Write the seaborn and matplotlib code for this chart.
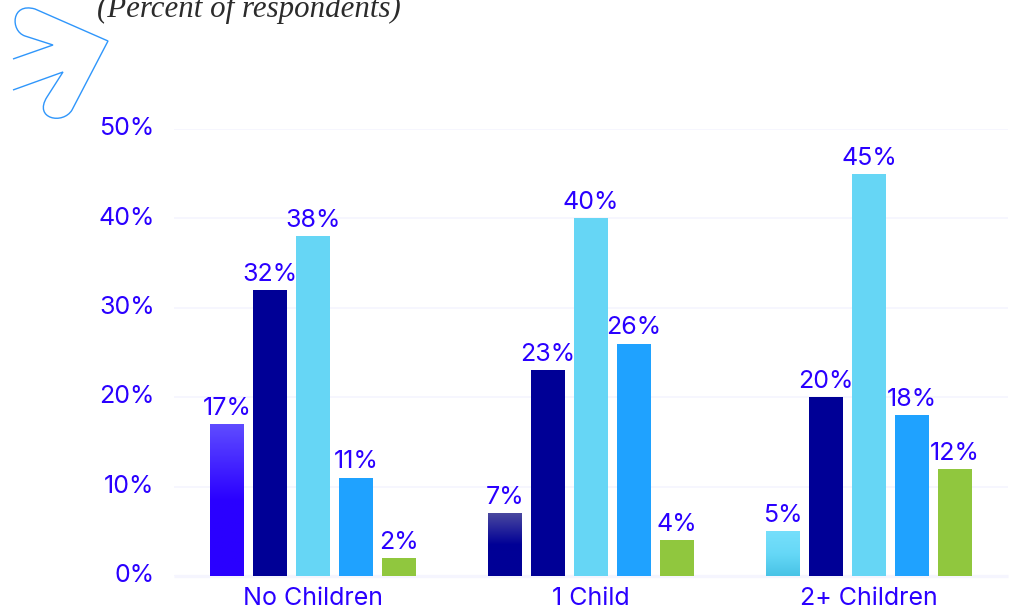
import matplotlib
matplotlib.use("Agg")
import matplotlib.pyplot as plt
import numpy as np
import pandas as pd
import seaborn as sns
from matplotlib.colors import LinearSegmentedColormap
from matplotlib.patches import PathPatch
from matplotlib.path import Path
from matplotlib.transforms import IdentityTransform, ScaledTranslation

categories = ["No Children", "1 Child", "2+ Children"]
series_names = ["Series 1", "Series 2", "Series 3", "Series 4", "Series 5"]
series_1 = [17, 7, 5]
series_2 = [32, 23, 20]
series_3 = [38, 40, 45]
series_4 = [11, 26, 18]
series_5 = [2, 4, 12]
series_colors = ["#2a00ff", "#000096", "#66d6f5", "#1fa2ff", "#90c73e"]
y_ticks = [0, 10, 20, 30, 40, 50]

# Vertical fades used by the first bar in each group (top to bottom)
first_bar_fades = [
    ["#5f4cff", "#2a00ff", "#2a00ff"],
    ["#4a489f", "#000096", "#000096"],
    ["#76dffb", "#66d8f7", "#48c3e6"],
]

INK = "#2a00ff"
GRID = "#f5f5fe"
FIG_W, FIG_H = 1016, 612
LABEL_SIZE = 18

sns.set_theme(style="white")
plt.rcParams["font.family"] = ["Inter", "DejaVu Sans"]

frame = pd.DataFrame({
    "group": np.tile(categories, len(series_names)),
    "series": np.repeat(series_names, len(categories)),
    "value": np.concatenate([series_1, series_2, series_3, series_4, series_5]),
})

fig = plt.figure(figsize=(FIG_W / 100, FIG_H / 100), dpi=100)
ax = fig.add_axes([174 / FIG_W, 1 - 576 / FIG_H, 834 / FIG_W, 447 / FIG_H])

sns.barplot(
    data=frame, x="group", y="value", hue="series",
    order=categories, hue_order=series_names, palette=series_colors,
    saturation=1, width=0.773, gap=0.21, legend=False, ax=ax,
    linewidth=0.0, zorder=3,
)

ax.set_xlim(-0.5, 2.5)
ax.set_ylim(0, 50)
ax.set_yticks(y_ticks)
ax.set_yticklabels([f"{v}%" for v in y_ticks])
ax.set_xlabel("")
ax.set_ylabel("")
ax.yaxis.grid(True, color=GRID, linewidth=1.2, zorder=0)
ax.xaxis.grid(False)
ax.set_axisbelow(True)
sns.despine(ax=ax, left=True, bottom=True, right=True, top=True)
ax.tick_params(axis="y", length=0, pad=14, labelsize=LABEL_SIZE, labelcolor=INK)
ax.tick_params(axis="x", length=0, pad=8, labelsize=LABEL_SIZE, labelcolor=INK)
ax.axhline(0, color=GRID, linewidth=2.4, zorder=1, clip_on=False, solid_capstyle="butt")

# Tick labels sit slightly above their gridlines
nudge = ScaledTranslation(0, 2 / 72, fig.dpi_scale_trans)
for label in ax.get_yticklabels():
    label.set_transform(label.get_transform() + nudge)

# Value labels come straight from each bar's height
for container in ax.containers:
    ax.bar_label(container, fmt="%g%%", padding=3, fontsize=LABEL_SIZE, color=INK, zorder=5)

# Paint the fades over the first series, clipped to its bars
for bar, stops in zip(ax.containers[0], first_bar_fades):
    x0, x1 = bar.get_x(), bar.get_x() + bar.get_width()
    cmap = LinearSegmentedColormap.from_list("fade", stops)
    ramp = np.linspace(0, 1, 128)[:, None]
    ax.imshow(ramp, cmap=cmap, extent=(x0, x1, 0, bar.get_height()),
              origin="upper", aspect="auto", zorder=4)
ax.set_xlim(-0.5, 2.5)
ax.set_ylim(0, 50)

fig.text(97 / FIG_W, 1 - 17 / FIG_H, "(Percent of respondents)", family="Liberation Serif",
         style="italic", fontsize=22.2, color="#2b2b2b", ha="left", va="baseline")

# Decorative arrow outline in the top-left corner, in pixel space
def px(x, y):
    return (x, FIG_H - y)

verts = [
    px(13, 59), px(53, 45), px(25, 36),
    px(10, 31), px(11, 2), px(35, 9),
    px(108, 41), px(72, 110),
    px(63, 125), px(33, 119), px(47, 97),
    px(63, 72), px(13, 90),
]
codes = [
    Path.MOVETO, Path.LINETO, Path.LINETO,
    Path.CURVE4, Path.CURVE4, Path.CURVE4,
    Path.LINETO, Path.LINETO,
    Path.CURVE4, Path.CURVE4, Path.CURVE4,
    Path.LINETO, Path.LINETO,
]
fig.add_artist(PathPatch(Path(verts, codes), transform=IdentityTransform(),
                         fill=False, edgecolor="#2f96fb", linewidth=1.0))

fig.savefig("out.png", dpi=100, facecolor="white")
